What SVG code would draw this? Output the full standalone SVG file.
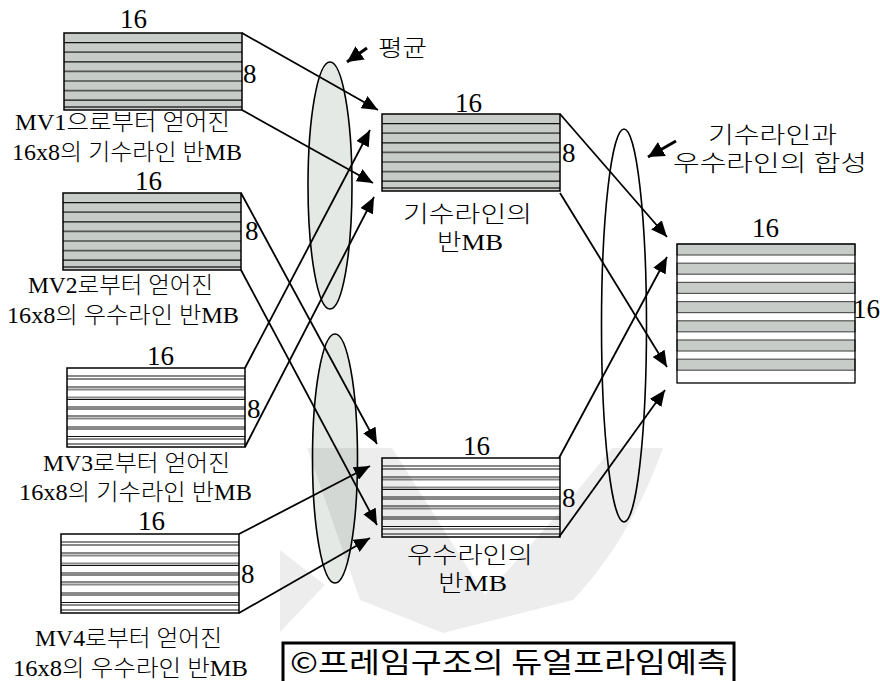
<svg xmlns="http://www.w3.org/2000/svg" xmlns:xlink="http://www.w3.org/1999/xlink" width="880" height="681" viewBox="0 0 880 681">
<style>
.num{font-family:"Liberation Serif","Noto Sans CJK KR",serif;font-size:27px;fill:#000}
.lbl{font-family:"Liberation Serif","Noto Sans CJK KR",serif;font-size:23px;font-weight:300;fill:#000}
.cap{font-family:"Noto Sans CJK KR","Noto Sans",sans-serif;font-size:28px;font-weight:400;fill:#000}
.conn{stroke:#000;stroke-width:1.8;fill:none;marker-end:url(#ah)}
.ptr{stroke:#000;stroke-width:3;fill:none;marker-end:url(#ah2)}
.ell{stroke:#000;stroke-width:1.6}
.bk{stroke:#111;stroke-width:1.2}
.dg{stroke:#555;stroke-width:1.8}
.lg{stroke:#8a8a8a;stroke-width:2}
</style>
<defs>
<marker id="ah" markerUnits="userSpaceOnUse" markerWidth="18" markerHeight="14" refX="16" refY="7" orient="auto"><path d="M0,0 L16,7 L0,14 z" fill="#000"/></marker>
<marker id="ah2" markerUnits="userSpaceOnUse" markerWidth="18" markerHeight="18" refX="16" refY="8" orient="auto"><path d="M0,0 L16,8 L0,16 z" fill="#000"/></marker>
<g id="greyMB">
<rect x="0" y="0" width="178" height="77" fill="#c8ccc8"/>
<line class="bk" x1="0" y1="9.6" x2="178" y2="9.6"/>
<line class="dg" x1="0" y1="19.2" x2="178" y2="19.2"/>
<line class="bk" x1="0" y1="28.8" x2="178" y2="28.8"/>
<line class="dg" x1="0" y1="38.4" x2="178" y2="38.4"/>
<line class="bk" x1="0" y1="48" x2="178" y2="48"/>
<line class="dg" x1="0" y1="57.6" x2="178" y2="57.6"/>
<line class="bk" x1="0" y1="67.2" x2="178" y2="67.2"/>
<line class="dg" x1="0" y1="74" x2="178" y2="74"/>
<rect x="0" y="0" width="178" height="77" fill="none" stroke="#000" stroke-width="1.5"/>
</g>
<g id="whiteMB">
<rect x="0" y="0" width="178" height="79" fill="#fff"/>
<line class="lg" x1="0" y1="8" x2="178" y2="8"/>
<line class="bk" x1="0" y1="11" x2="178" y2="11"/>
<line class="bk" x1="0" y1="19" x2="178" y2="19"/>
<line class="lg" x1="0" y1="21.5" x2="178" y2="21.5"/>
<line class="lg" x1="0" y1="29.5" x2="178" y2="29.5"/>
<line class="bk" x1="0" y1="31.5" x2="178" y2="31.5"/>
<line class="lg" x1="0" y1="39" x2="178" y2="39"/>
<line class="bk" x1="0" y1="41" x2="178" y2="41"/>
<line class="bk" x1="0" y1="48" x2="178" y2="48"/>
<line class="lg" x1="0" y1="50.5" x2="178" y2="50.5"/>
<line class="lg" x1="0" y1="59" x2="178" y2="59"/>
<line class="bk" x1="0" y1="61" x2="178" y2="61"/>
<line class="bk" x1="0" y1="68.5" x2="178" y2="68.5"/>
<line class="lg" x1="0" y1="71" x2="178" y2="71"/>
<line class="bk" x1="0" y1="76" x2="178" y2="76"/>
<rect x="0" y="0" width="178" height="79" fill="none" stroke="#000" stroke-width="1.5"/>
</g>
</defs>
<rect x="0" y="0" width="880" height="681" fill="#fff"/>

<g id="ellipses">
<ellipse class="ell" cx="330" cy="185.5" rx="22" ry="123.5" fill="#e5e9e5"/>
<ellipse class="ell" cx="335" cy="458.5" rx="22.5" ry="124.5" fill="#e5e9e5"/>
<ellipse class="ell" cx="624" cy="325.5" rx="22.5" ry="196.5" fill="none"/>
</g>

<g id="mv1">
<use xlink:href="#greyMB" x="64" y="33"/>
<text class="num" x="120" y="28">16</text>
<text class="num" x="243" y="83">8</text>
<text class="lbl" x="15" y="130" textLength="215" lengthAdjust="spacingAndGlyphs">MV1으로부터 얻어진</text>
<text class="lbl" x="12" y="160" textLength="230" lengthAdjust="spacingAndGlyphs">16x8의 기수라인 반MB</text>
</g>

<g id="mv2">
<use xlink:href="#greyMB" x="63" y="193"/>
<text class="num" x="135" y="190">16</text>
<text class="num" x="245" y="240">8</text>
<text class="lbl" x="28" y="293" textLength="185" lengthAdjust="spacingAndGlyphs">MV2로부터 얻어진</text>
<text class="lbl" x="7" y="323" textLength="232" lengthAdjust="spacingAndGlyphs">16x8의 우수라인 반MB</text>
</g>

<g id="mv3">
<use xlink:href="#whiteMB" x="67" y="368"/>
<text class="num" x="147" y="365">16</text>
<text class="num" x="247" y="418">8</text>
<text class="lbl" x="43" y="471" textLength="187" lengthAdjust="spacingAndGlyphs">MV3로부터 얻어진</text>
<text class="lbl" x="19" y="500" textLength="233" lengthAdjust="spacingAndGlyphs">16x8의 기수라인 반MB</text>
</g>

<g id="mv4">
<use xlink:href="#whiteMB" x="61" y="534"/>
<text class="num" x="138" y="530">16</text>
<text class="num" x="241" y="583">8</text>
<text class="lbl" x="35" y="646" textLength="187" lengthAdjust="spacingAndGlyphs">MV4로부터 얻어진</text>
<text class="lbl" x="13" y="676" textLength="235" lengthAdjust="spacingAndGlyphs">16x8의 우수라인 반MB</text>
</g>

<g id="odd-half">
<use xlink:href="#greyMB" x="382" y="114"/>
<text class="num" x="455" y="112">16</text>
<text class="num" x="562" y="162">8</text>
<text class="lbl" x="403" y="222" textLength="129" lengthAdjust="spacingAndGlyphs">기수라인의</text>
<text class="lbl" x="437" y="250" textLength="66" lengthAdjust="spacingAndGlyphs">반MB</text>
</g>

<g id="even-half">
<use xlink:href="#whiteMB" x="382" y="458"/>
<text class="num" x="463" y="455">16</text>
<text class="num" x="562" y="507">8</text>
<text class="lbl" x="407" y="563" textLength="126" lengthAdjust="spacingAndGlyphs">우수라인의</text>
<text class="lbl" x="438" y="591" textLength="69" lengthAdjust="spacingAndGlyphs">반MB</text>
</g>

<g id="merged">
<rect x="677" y="244" width="178" height="139" fill="#fff"/>
<g fill="#c8ccc8" stroke="#555" stroke-width="1.2">
<rect x="677" y="244" width="178" height="11"/>
<rect x="677" y="263.2" width="178" height="11"/>
<rect x="677" y="282.4" width="178" height="11"/>
<rect x="677" y="301.6" width="178" height="11"/>
<rect x="677" y="320.8" width="178" height="11"/>
<rect x="677" y="340" width="178" height="11"/>
<rect x="677" y="359.2" width="178" height="11"/>
</g>
<rect x="677" y="244" width="178" height="139" fill="none" stroke="#000" stroke-width="1.3"/>
<text class="num" x="752" y="237">16</text>
<text class="num" x="853" y="318">16</text>
</g>

<g id="notes">
<text class="lbl" x="378" y="56" textLength="49" lengthAdjust="spacingAndGlyphs">평균</text>
<text class="lbl" x="708" y="143" textLength="129" lengthAdjust="spacingAndGlyphs">기수라인과</text>
<text class="lbl" x="673" y="171" textLength="194" lengthAdjust="spacingAndGlyphs">우수라인의 합성</text>
</g>

<g id="connectors">
<line class="conn" x1="242" y1="33" x2="378" y2="110"/>
<line class="conn" x1="242" y1="110" x2="373" y2="183"/>
<line class="conn" x1="241" y1="193" x2="377" y2="444"/>
<line class="conn" x1="241" y1="270" x2="377" y2="525"/>
<line class="conn" x1="245" y1="368" x2="370" y2="130"/>
<line class="conn" x1="245" y1="447" x2="374" y2="197"/>
<line class="conn" x1="239" y1="534" x2="370" y2="466"/>
<line class="conn" x1="239" y1="613" x2="370" y2="538"/>
<line class="conn" x1="560" y1="114" x2="667" y2="237"/>
<line class="conn" x1="560" y1="193" x2="667" y2="367"/>
<line class="conn" x1="559" y1="458" x2="667" y2="257"/>
<line class="conn" x1="559" y1="537" x2="665" y2="390"/>
<line class="ptr" x1="367" y1="48" x2="347" y2="62"/>
<line class="ptr" x1="676" y1="141" x2="648" y2="157"/>
</g>

<g id="watermark" fill="#000" fill-opacity="0.07">
<path d="M307,448 L392,448 L485,595 Q555,520 612,448 L663,448 Q630,540 573,600 L443,633 L360,600 Z"/>
<path d="M280,550 L325,585 L280,632 Z"/>
</g>

<g id="caption">
<path d="M283,681 L283,643 L734,643 L734,681" fill="none" stroke="#000" stroke-width="3"/>
<text class="cap" x="290" y="673" textLength="438" lengthAdjust="spacingAndGlyphs">©프레임구조의 듀얼프라임예측</text>
</g>
</svg>
